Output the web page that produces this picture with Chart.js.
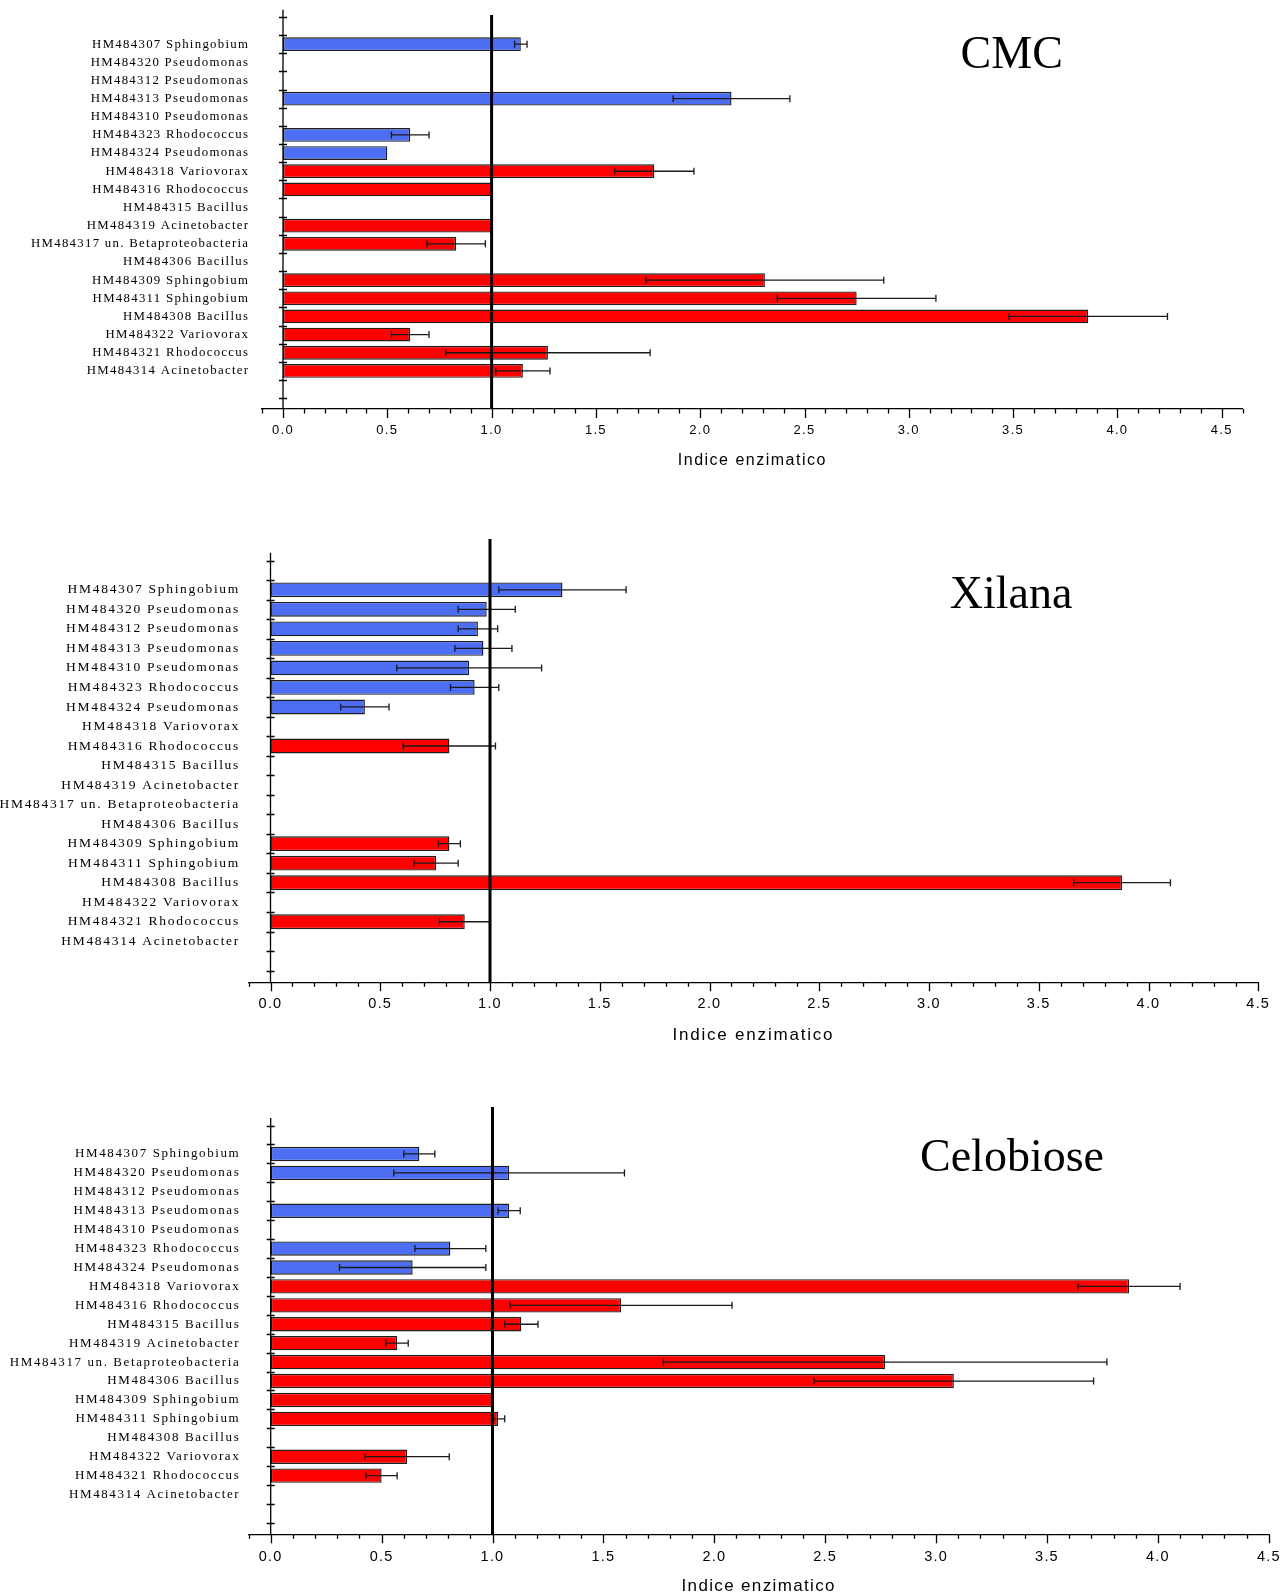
<!DOCTYPE html>
<html>
<head>
<meta charset="utf-8">
<title>Indice enzimatico – CMC, Xilana, Celobiose</title>
<script src="https://cdn.jsdelivr.net/npm/chart.js@4"></script>
<style>
  html, body { margin: 0; padding: 0; background: #fff; }
  body { position: relative; width: 1284px; height: 1596px; overflow: hidden; }
  canvas { position: absolute; left: 0; }
</style>
</head>
<body>
<script>
// Isolates, in plotting order (top to bottom)
const strains = [
  'HM484307 Sphingobium',
  'HM484320 Pseudomonas',
  'HM484312 Pseudomonas',
  'HM484313 Pseudomonas',
  'HM484310 Pseudomonas',
  'HM484323 Rhodococcus',
  'HM484324 Pseudomonas',
  'HM484318 Variovorax',
  'HM484316 Rhodococcus',
  'HM484315 Bacillus',
  'HM484319 Acinetobacter',
  'HM484317 un. Betaproteobacteria',
  'HM484306 Bacillus',
  'HM484309 Sphingobium',
  'HM484311 Sphingobium',
  'HM484308 Bacillus',
  'HM484322 Variovorax',
  'HM484321 Rhodococcus',
  'HM484314 Acinetobacter'
];

// Enzymatic index (mean) and standard deviation per substrate; null = no activity
const cmcIndex = [1.14, null, null, 2.15, null, 0.61, 0.50, 1.78, 1.00, null, 1.00, 0.83, null, 2.31, 2.75, 3.86, 0.61, 1.27, 1.15];
const cmcSd    = [0.03, null, null, 0.28, null, 0.09, null, 0.19, null, null, null, 0.14, null, 0.57, 0.38, 0.38, 0.09, 0.49, 0.13];

const xilanaIndex = [1.33, 0.985, 0.945, 0.97, 0.905, 0.93, 0.43, null, 0.815, null, null, null, null, 0.815, 0.755, 3.88, null, 0.885, null];
const xilanaSd    = [0.29, 0.13, 0.09, 0.13, 0.33, 0.11, 0.11, null, 0.21, null, null, null, null, 0.05, 0.10, 0.22, null, 0.115, null];

const celobioseIndex = [0.67, 1.075, null, 1.075, null, 0.81, 0.64, 3.87, 1.58, 1.13, 0.57, 2.77, 3.08, 1.00, 1.025, null, 0.615, 0.50, null];
const celobioseSd    = [0.07, 0.52, null, 0.05, null, 0.16, 0.33, 0.23, 0.50, 0.075, 0.05, 1.00, 0.63, null, 0.03, null, 0.19, 0.07, null];

// Labelled ticks of the index axis and the reference index
const xTickValues = [0.0, 0.5, 1.0, 1.5, 2.0, 2.5, 3.0, 3.5, 4.0, 4.5];
const referenceIndex = 1.0;

const BLUE = '#4d6ef2';
const RED = '#ff0000';
const barColors = strains.map((_, i) => (i < 7 ? BLUE : RED));

const SERIF = '"Liberation Serif", "Times New Roman", serif';
const SANS = '"Liberation Sans", Arial, sans-serif';
const PAGE_W = 1284;
const X_MIN = -0.1;
const Y_MIN = -1.9;
const Y_MAX = 20.1;

// Layout of each panel on the page
const panels = [
  { title: 'CMC', mean: cmcIndex, sd: cmcSd,
    top: 0, height: 480, plotTop: 9.7, plotBottom: 409, zeroX: 283, unitPx: 208.6, xMax: 4.6,
    refTop: -1.61, titleX: 1011.7, titleBaseline: 68,
    yFont: 12.8, ySpacing: 1.3, yLabelRight: 248,
    xFont: 13, xSpacing: 1.3, tickCenter: 430.6,
    axisFont: 16, axisSpacing: 1.5, axisTitleCenter: 461 },
  { title: 'Xilana', mean: xilanaIndex, sd: xilanaSd,
    top: 520, height: 540, plotTop: 552.7, plotBottom: 982.3, zeroX: 270.5, unitPx: 219.5, xMax: 4.5,
    refTop: -2.6, titleX: 1011, titleBaseline: 608,
    yFont: 13.5, ySpacing: 1.7, yLabelRight: 238.3,
    xFont: 14.5, xSpacing: 1.2, tickCenter: 1003.7,
    axisFont: 17, axisSpacing: 1.8, axisTitleCenter: 1035.5 },
  { title: 'Celobiose', mean: celobioseIndex, sd: celobioseSd,
    top: 1090, height: 506, plotTop: 1118, plotBottom: 1534.3, zeroX: 270.7, unitPx: 221.8, xMax: 4.5,
    refTop: -2.48, titleX: 1012, titleBaseline: 1170.7,
    yFont: 13, ySpacing: 1.6, yLabelRight: 238.7,
    xFont: 14.5, xSpacing: 1.2, tickCenter: 1556.5,
    axisFont: 17, axisSpacing: 1.35, axisTitleCenter: 1586.5 }
];

// Letter spacing for the scale texts (applied around the library's own text drawing)
const textSpacing = {
  id: 'textSpacing',
  beforeDraw(chart, args, opts) {
    const patch = (scale, method, spacing) => {
      const key = '_spaced_' + method;
      if (!scale || scale[key]) return;
      const orig = scale[method];
      scale[method] = function (...a) {
        const c = this.ctx;
        c.save();
        c.letterSpacing = spacing;
        orig.apply(this, a);
        c.restore();
      };
      scale[key] = true;
    };
    patch(chart.scales.y, 'drawLabels', opts.y);
    patch(chart.scales.x, 'drawLabels', opts.x);
    patch(chart.scales.x, 'drawTitle', opts.title);
  }
};

// Axis lines with tick marks, error bars, the reference line and the panel title
const panelDecor = {
  id: 'panelDecor',
  afterDatasetsDraw(chart, args, o) {
    const { ctx, scales: { x, y } } = chart;
    const x0 = x.getPixelForValue(0);
    const yTop = y.getPixelForValue(y.min);
    const yBottom = y.getPixelForValue(y.max);
    ctx.save();

    // error bars
    ctx.strokeStyle = '#1a1a1a';
    ctx.lineWidth = 1.3;
    ctx.beginPath();
    o.mean.forEach((v, i) => {
      const e = o.sd[i];
      if (v == null || e == null) return;
      const py = y.getPixelForValue(i);
      const a = x.getPixelForValue(v - e);
      const b = x.getPixelForValue(v + e);
      ctx.moveTo(a, py); ctx.lineTo(b, py);
      ctx.moveTo(a, py - 3.5); ctx.lineTo(a, py + 3.5);
      ctx.moveTo(b, py - 3.5); ctx.lineTo(b, py + 3.5);
    });
    ctx.stroke();

    // reference line at index 1.0
    const xr = x.getPixelForValue(referenceIndex);
    ctx.strokeStyle = '#000';
    ctx.lineWidth = 3;
    ctx.beginPath();
    ctx.moveTo(xr, y.getPixelForValue(o.refTop));
    ctx.lineTo(xr, yBottom);
    ctx.stroke();

    // vertical axis at zero with ticks between the rows
    ctx.lineWidth = 1.3;
    ctx.beginPath();
    ctx.moveTo(x0, yTop);
    ctx.lineTo(x0, yBottom);
    for (let k = -1.5; k <= strains.length + 0.5; k += 1) {
      const py = Math.round(y.getPixelForValue(k)) + 0.5;
      ctx.moveTo(x0 - 4, py);
      ctx.lineTo(x0 + 4, py);
    }
    // minor (0.1) and major (0.5) ticks below the index axis
    const last = Math.round(x.max * 10);
    for (let t = Math.round(x.min * 10); t <= last; t++) {
      const px = Math.round(x.getPixelForValue(t / 10)) + 0.5;
      const len = t % 5 === 0 ? 9 : 4.5;
      ctx.moveTo(px, yBottom);
      ctx.lineTo(px, yBottom + len);
    }
    ctx.stroke();

    // panel title
    ctx.fillStyle = '#000';
    ctx.font = '46px ' + SERIF;
    ctx.textAlign = 'center';
    ctx.textBaseline = 'alphabetic';
    ctx.fillText(o.title, o.titleX, o.titleBaseline);
    ctx.restore();
  }
};

panels.forEach((p) => {
  const canvas = document.createElement('canvas');
  canvas.width = PAGE_W;
  canvas.height = p.height;
  canvas.style.top = p.top + 'px';
  canvas.style.width = PAGE_W + 'px';
  canvas.style.height = p.height + 'px';
  document.body.appendChild(canvas);

  const yAxisWidth = p.zeroX + X_MIN * p.unitPx;
  const plotRight = p.zeroX + p.xMax * p.unitPx;
  const xAxisHeight = p.axisTitleCenter - p.plotBottom + p.axisFont * 1.2 / 2;
  const tickPad = p.tickCenter - p.plotBottom - p.xFont * 1.2 / 2;
  const labelGap = yAxisWidth - p.yLabelRight - p.ySpacing;

  new Chart(canvas, {
    type: 'bar',
    data: {
      datasets: [{
        data: p.mean.map((v, i) => ({ x: v, y: i })),
        backgroundColor: barColors,
        borderColor: '#1e1e1e',
        borderWidth: 1.4,
        borderSkipped: false,
        barPercentage: 0.76,
        categoryPercentage: 1
      }]
    },
    options: {
      indexAxis: 'y',
      responsive: false,
      animation: false,
      devicePixelRatio: 1,
      layout: {
        padding: {
          top: p.plotTop - p.top,
          right: PAGE_W - plotRight,
          bottom: p.height - (p.plotBottom - p.top) - xAxisHeight,
          left: 0
        }
      },
      plugins: {
        legend: { display: false },
        tooltip: { enabled: false },
        textSpacing: { y: p.ySpacing + 'px', x: p.xSpacing + 'px', title: p.axisSpacing + 'px' },
        panelDecor: { title: p.title, mean: p.mean, sd: p.sd, refTop: p.refTop,
                      titleX: p.titleX, titleBaseline: p.titleBaseline - p.top }
      },
      scales: {
        x: {
          type: 'linear',
          offset: false,
          min: X_MIN,
          max: p.xMax,
          afterBuildTicks: (s) => { s.ticks = xTickValues.map((v) => ({ value: v })); },
          afterFit: (s) => {
            s.height = xAxisHeight;
            s.paddingLeft = 0;
            s.paddingRight = 0;
          },
          grid: { display: false, drawTicks: false },
          border: { display: true, color: '#000', width: 1.3 },
          ticks: {
            autoSkip: false, maxRotation: 0, minRotation: 0,
            padding: tickPad,
            color: '#000',
            font: { family: SANS, size: p.xFont },
            callback: (v) => Number(v).toFixed(1)
          },
          title: {
            display: true,
            text: 'Indice enzimatico',
            color: '#000',
            padding: 0,
            font: { family: SANS, size: p.axisFont }
          }
        },
        y: {
          type: 'linear',
          offset: false,
          reverse: true,
          min: Y_MIN,
          max: Y_MAX,
          afterBuildTicks: (s) => { s.ticks = strains.map((_, i) => ({ value: i })); },
          afterFit: (s) => {
            s.width = yAxisWidth;
            s.paddingTop = 0;
            s.paddingBottom = 0;
          },
          // the gap between the names and the axis comes from the (hidden) tick length
          grid: { display: false, drawTicks: true, tickLength: labelGap },
          border: { display: false },
          ticks: {
            autoSkip: false,
            padding: 0,
            color: '#000',
            font: { family: SERIF, size: p.yFont },
            callback: (v) => strains[v] ?? ''
          }
        }
      }
    },
    plugins: [textSpacing, panelDecor]
  });
});
</script>
</body>
</html>
